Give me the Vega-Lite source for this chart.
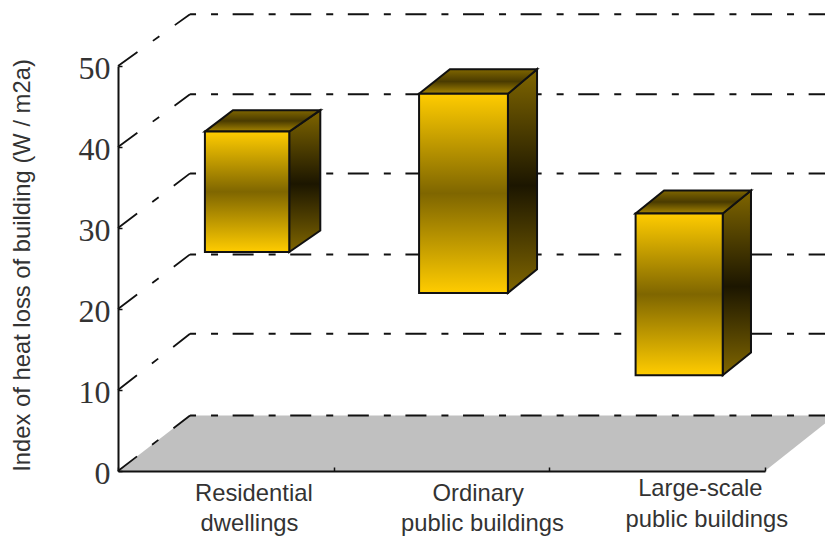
{
  "$schema": "https://vega.github.io/schema/vega-lite/v6.json",
  "autosize": "none",
  "width": 647,
  "height": 405,
  "padding": {"left": 118, "top": 66, "right": 60, "bottom": 70},
  "background": "white",
  "config": {"view": {"stroke": null}},
  "datasets": {
    "floor": [
      {"x": 0, "y": 0, "y2": 0},
      {"x": 0.334, "y": 0, "y2": 6.85},
      {"x": 3, "y": 0, "y2": 6.85},
      {"x": 3.325, "y": 6.85, "y2": 6.85}
    ],
    "sideWallLines": [
      {"x": 0, "x2": 0.334, "y": 0, "y2": 6.85},
      {"x": 0, "x2": 0.334, "y": 10, "y2": 16.94},
      {"x": 0, "x2": 0.334, "y": 20, "y2": 26.74},
      {"x": 0, "x2": 0.334, "y": 30, "y2": 36.74},
      {"x": 0, "x2": 0.334, "y": 40, "y2": 46.5},
      {"x": 0, "x2": 0.334, "y": 50, "y2": 56.4}
    ],
    "backWallLines": [
      {"x": 0.334, "x2": 3.325, "y": 6.85, "y2": 6.85},
      {"x": 0.334, "x2": 3.325, "y": 16.94, "y2": 16.94},
      {"x": 0.334, "x2": 3.325, "y": 26.74, "y2": 26.74},
      {"x": 0.334, "x2": 3.325, "y": 36.74, "y2": 36.74},
      {"x": 0.334, "x2": 3.325, "y": 46.5, "y2": 46.5},
      {"x": 0.334, "x2": 3.325, "y": 56.4, "y2": 56.4}
    ],
    "bars": [
      {"building": "Residential dwellings", "x": 0.403, "x2": 0.794, "y": 27.04, "y2": 41.9},
      {"building": "Ordinary public buildings", "x": 1.396, "x2": 1.808, "y": 21.98, "y2": 46.57},
      {"building": "Large-scale public buildings", "x": 2.4, "x2": 2.804, "y": 11.83, "y2": 31.79}
    ],
    "sideFaces": [
      {"building": "Residential dwellings", "x": 0.794, "y": 27.04, "y2": 41.9},
      {"building": "Residential dwellings", "x": 0.938, "y": 29.69, "y2": 44.55},
      {"building": "Ordinary public buildings", "x": 1.808, "y": 21.98, "y2": 46.57},
      {"building": "Ordinary public buildings", "x": 1.943, "y": 24.9, "y2": 49.6},
      {"building": "Large-scale public buildings", "x": 2.804, "y": 11.83, "y2": 31.79},
      {"building": "Large-scale public buildings", "x": 2.935, "y": 14.63, "y2": 34.63}
    ],
    "topFaces": [
      {"building": "Residential dwellings", "x": 0.403, "y": 41.9, "y2": 41.9},
      {"building": "Residential dwellings", "x": 0.533, "y": 41.9, "y2": 44.55},
      {"building": "Residential dwellings", "x": 0.794, "y": 41.9, "y2": 44.55},
      {"building": "Residential dwellings", "x": 0.938, "y": 44.55, "y2": 44.55},
      {"building": "Ordinary public buildings", "x": 1.396, "y": 46.57, "y2": 46.57},
      {"building": "Ordinary public buildings", "x": 1.539, "y": 46.57, "y2": 49.6},
      {"building": "Ordinary public buildings", "x": 1.808, "y": 46.57, "y2": 49.6},
      {"building": "Ordinary public buildings", "x": 1.943, "y": 49.6, "y2": 49.6},
      {"building": "Large-scale public buildings", "x": 2.4, "y": 31.79, "y2": 31.79},
      {"building": "Large-scale public buildings", "x": 2.532, "y": 31.79, "y2": 34.63},
      {"building": "Large-scale public buildings", "x": 2.804, "y": 31.79, "y2": 34.63},
      {"building": "Large-scale public buildings", "x": 2.935, "y": 34.63, "y2": 34.63}
    ],
    "categoryLabels": [
      {"x": 0.63, "y": -2.8, "text": "Residential"},
      {"x": 0.61, "y": -6.6, "text": "dwellings"},
      {"x": 1.67, "y": -2.8, "text": "Ordinary"},
      {"x": 1.69, "y": -6.5, "text": "public buildings"},
      {"x": 2.7, "y": -2.2, "text": "Large-scale"},
      {"x": 2.73, "y": -6.1, "text": "public buildings"}
    ]
  },
  "encoding": {
    "x": {
      "field": "x",
      "type": "quantitative",
      "scale": {"domain": [0, 3], "nice": false, "zero": false},
      "axis": {
        "values": [0, 1, 2, 3],
        "labels": false,
        "title": null,
        "grid": false,
        "tickSize": -4,
        "tickColor": "#111111",
        "tickWidth": 1.5,
        "domainColor": "#111111",
        "domainWidth": 2,
        "zindex": 1
      }
    },
    "y": {
      "field": "y",
      "type": "quantitative",
      "scale": {"domain": [0, 50], "nice": false, "zero": false},
      "axis": {
        "values": [0, 10, 20, 30, 40, 50],
        "title": "Index of heat loss of building (W / m2a)",
        "titleFont": "Liberation Sans",
        "titleFontSize": 23.8,
        "titleFontWeight": "normal",
        "titleColor": "#333333",
        "titleX": -84,
        "titleY": 199,
        "grid": false,
        "tickSize": -4,
        "tickColor": "#111111",
        "tickWidth": 1.5,
        "domainColor": "#111111",
        "domainWidth": 2,
        "labelFont": "Liberation Serif",
        "labelFontSize": 32,
        "labelColor": "#333333",
        "labelPadding": 12,
        "labelOffset": 2,
        "labelFlush": false,
        "zindex": 1
      }
    }
  },
  "layer": [
    {
      "data": {"name": "floor"},
      "mark": {"type": "area", "fill": "#C0C0C0", "orient": "vertical"},
      "encoding": {"y2": {"field": "y2"}}
    },
    {
      "data": {"name": "sideWallLines"},
      "mark": {"type": "rule", "stroke": "#111111", "strokeWidth": 1.8, "strokeDash": [24, 19, 8, 19]},
      "encoding": {"x2": {"field": "x2"}, "y2": {"field": "y2"}}
    },
    {
      "data": {"name": "backWallLines"},
      "mark": {"type": "rule", "stroke": "#111111", "strokeWidth": 2, "strokeDash": [21, 15, 7, 14.6], "strokeDashOffset": 15},
      "encoding": {"x2": {"field": "x2"}, "y2": {"field": "y2"}}
    },
    {
      "data": {"name": "sideFaces"},
      "mark": {
        "type": "area",
        "orient": "vertical",
        "stroke": "#111111",
        "strokeWidth": 2,
        "fill": {
          "gradient": "linear", "x1": 0, "y1": 0, "x2": 0, "y2": 1,
          "stops": [
            {"offset": 0, "color": "#806600"},
            {"offset": 0.52, "color": "#1C1600"},
            {"offset": 1, "color": "#806600"}
          ]
        }
      },
      "encoding": {"y2": {"field": "y2"}, "detail": {"field": "building"}}
    },
    {
      "data": {"name": "topFaces"},
      "mark": {
        "type": "area",
        "orient": "vertical",
        "stroke": "#111111",
        "strokeWidth": 2,
        "fill": {
          "gradient": "linear", "x1": 0, "y1": 0, "x2": 0, "y2": 1,
          "stops": [
            {"offset": 0, "color": "#806600"},
            {"offset": 0.5, "color": "#4A3B00"},
            {"offset": 1, "color": "#A68500"}
          ]
        }
      },
      "encoding": {"y2": {"field": "y2"}, "detail": {"field": "building"}}
    },
    {
      "data": {"name": "bars"},
      "mark": {
        "type": "rect",
        "stroke": "#111111",
        "strokeWidth": 2,
        "fill": {
          "gradient": "linear", "x1": 0, "y1": 0, "x2": 0, "y2": 1,
          "stops": [
            {"offset": 0, "color": "#FFCC00"},
            {"offset": 0.5, "color": "#7F6600"},
            {"offset": 1, "color": "#FFCC00"}
          ]
        }
      },
      "encoding": {"x2": {"field": "x2"}, "y2": {"field": "y2"}}
    },
    {
      "data": {"name": "categoryLabels"},
      "mark": {"type": "text", "font": "Liberation Sans", "fontSize": 23.8, "fill": "#333333", "align": "center", "baseline": "middle"},
      "encoding": {"text": {"field": "text"}}
    }
  ]
}
